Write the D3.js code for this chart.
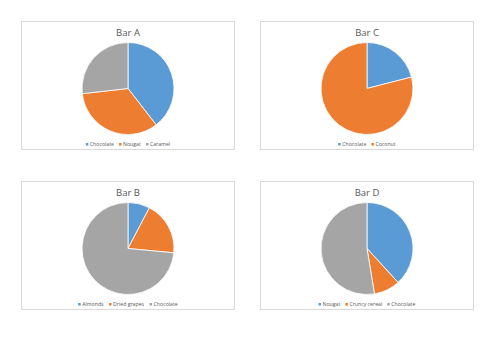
<!DOCTYPE html>
<html>
<head>
<meta charset="utf-8">
<script src="https://cdn.jsdelivr.net/npm/d3@7"></script>
<style>
  body { margin: 0; background: #fff; }
  svg { display: block; font-family: "Open Sans", "Liberation Sans", sans-serif; }
</style>
</head>
<body>
<svg id="chart" width="500" height="353"></svg>
<script>
const titles = ["Bar A", "Bar C", "Bar B", "Bar D"];
const barA_labels = ["Chocolate", "Nougat", "Caramel"];
const barA_values = [39.5, 33.7, 26.8];
const barC_labels = ["Chocolate", "Coconut"];
const barC_values = [21, 79];
const barB_labels = ["Almonds", "Dried grapes", "Chocolate"];
const barB_values = [7.7, 18.8, 73.5];
const barD_labels = ["Nougat", "Cruncy cereal", "Chocolate"];
const barD_values = [38.2, 9.2, 52.6];
const colors = ["#5B9BD5", "#ED7D31", "#A5A5A5"];

const charts = [
  {title: titles[0], labels: barA_labels, values: barA_values, x: 21, y: 21},
  {title: titles[1], labels: barC_labels, values: barC_values, x: 260, y: 21},
  {title: titles[2], labels: barB_labels, values: barB_values, x: 21, y: 181},
  {title: titles[3], labels: barD_labels, values: barD_values, x: 260, y: 181}
];

const svg = d3.select("#chart");
const box_w = 213, box_h = 128, radius = 46;

const pie = d3.pie().sort(null).value(d => d.value);
const arc = d3.arc().innerRadius(0).outerRadius(radius);

charts.forEach(c => {
  const g = svg.append("g").attr("transform", `translate(${c.x},${c.y})`);

  g.append("rect")
    .attr("x", 0.5).attr("y", 0.5)
    .attr("width", box_w).attr("height", box_h)
    .attr("fill", "#fff")
    .attr("stroke", "#d9d9d9");

  g.append("text")
    .attr("x", box_w / 2 + 0.5)
    .attr("y", 14.5)
    .attr("text-anchor", "middle")
    .attr("font-size", "9.5px")
    .attr("fill", "#595959")
    .text(c.title);

  const data = c.labels.map((l, i) => ({label: l, value: c.values[i], color: colors[i]}));

  g.append("g")
    .attr("transform", `translate(${box_w / 2 + 0.5},${67.5})`)
    .selectAll("path")
    .data(pie(data))
    .join("path")
    .attr("d", arc)
    .attr("fill", d => d.data.color)
    .attr("stroke", "#fff")
    .attr("stroke-width", 0.8);

  // legend
  const legend = g.append("g");
  const items = legend.selectAll("g")
    .data(data)
    .join("g");
  items.append("rect")
    .attr("width", 2.5).attr("height", 2.5)
    .attr("y", -2.5)
    .attr("fill", d => d.color);
  items.append("text")
    .attr("x", 4)
    .attr("y", 0)
    .attr("font-size", "5.2px")
    .attr("fill", "#595959")
    .text(d => d.label);
  let offset = 0;
  items.each(function() {
    const w = this.getBBox().width;
    d3.select(this).attr("transform", `translate(${offset},0)`);
    offset += w + 5;
  });
  const total = offset - 5;
  legend.attr("transform", `translate(${(box_w - total) / 2 + 0.5},${124.5})`);
});
</script>
</body>
</html>
